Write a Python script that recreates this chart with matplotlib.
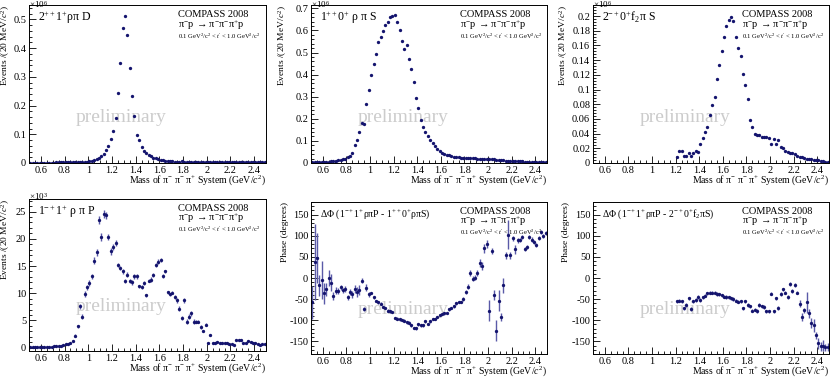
import numpy as np
import matplotlib
matplotlib.use('Agg')
import matplotlib.pyplot as plt
from matplotlib.ticker import MultipleLocator, AutoMinorLocator, FormatStrFormatter

plt.rcParams['font.family'] = ['Liberation Serif', 'DejaVu Serif']
plt.rcParams['mathtext.fontset'] = 'custom'
plt.rcParams['mathtext.rm'] = 'Liberation Serif'
plt.rcParams['mathtext.it'] = 'Liberation Serif:italic'
plt.rcParams['mathtext.default'] = 'regular'
plt.rcParams['axes.unicode_minus'] = False

# mass bins (20 MeV), bin centres
mass = np.round(np.arange(0.51, 2.50, 0.02), 2)

# 2++1+ rho pi D  (x10^6)
wave_2pp = [0.001, 0.001, 0.001, 0.001, 0.001, 0.001, 0.001, 0.001, 0.001, 0.001,
            0.001, 0.002, 0.002, 0.002, 0.002, 0.002, 0.002, 0.002, 0.002, 0.003,
            0.003, 0.003, 0.004, 0.004, 0.005, 0.006, 0.008, 0.010, 0.013, 0.017,
            0.023, 0.032, 0.044, 0.060, 0.084, 0.113, 0.156, 0.243, 0.347, 0.469,
            0.510, 0.447, 0.332, 0.234, 0.164, 0.098, 0.079, 0.056, 0.041, 0.034,
            0.029, 0.024, 0.019, 0.016, 0.013, 0.011, 0.009, 0.008, 0.007, 0.006,
            0.006, 0.005, 0.005, 0.005, 0.007, 0.005, 0.004, 0.004, 0.004, 0.003,
            0.003, 0.003, 0.003, 0.003, 0.003, 0.003, 0.003, 0.003, 0.003, 0.003,
            0.003, 0.003, 0.003, 0.002, 0.002, 0.002, 0.002, 0.002, 0.002, 0.002,
            0.002, 0.002, 0.002, 0.002, 0.002, 0.002, 0.002, 0.002, 0.002, 0.002]

# 1++0+ rho pi S  (x10^6)
wave_1pp = [0.003, 0.003, 0.003, 0.004, 0.004, 0.005, 0.005, 0.006, 0.007, 0.008,
            0.010, 0.012, 0.014, 0.017, 0.020, 0.025, 0.030, 0.043, 0.082, 0.102,
            0.140, 0.183, 0.175, 0.265, 0.330, 0.396, 0.447, 0.493, 0.546, 0.568,
            0.598, 0.624, 0.636, 0.662, 0.667, 0.671, 0.638, 0.600, 0.553, 0.515,
            0.533, 0.472, 0.425, 0.368, 0.294, 0.247, 0.193, 0.164, 0.142, 0.122,
            0.105, 0.091, 0.076, 0.064, 0.053, 0.046, 0.040, 0.037, 0.034, 0.031,
            0.029, 0.027, 0.025, 0.024, 0.023, 0.023, 0.022, 0.022, 0.021, 0.021,
            0.020, 0.020, 0.019, 0.019, 0.018, 0.017, 0.017, 0.016, 0.015, 0.014,
            0.013, 0.012, 0.011, 0.010, 0.010, 0.009, 0.008, 0.008, 0.007, 0.007,
            0.006, 0.006, 0.005, 0.005, 0.005, 0.004, 0.004, 0.004, 0.003, 0.003]

# 2-+0+ f2 pi S  (x10^6), starts at 1.21
wave_2mp = [np.nan] * 35 + [
            0.0077, 0.017, 0.017, 0.010, 0.010, 0.014, 0.0095, 0.013, 0.017, 0.0155,
            0.026, 0.034, 0.042, 0.049, 0.065, 0.079, 0.090, 0.114, 0.133, 0.153,
            0.172, 0.187, 0.194, 0.199, 0.193, 0.171, 0.156, 0.145, 0.121, 0.106,
            0.087, 0.058, 0.049, 0.040, 0.038, 0.038, 0.036, 0.036, 0.035, 0.034,
            0.026, 0.033, 0.026, 0.031, 0.022, 0.020, 0.017, 0.015, 0.013, 0.013,
            0.012, 0.0095, 0.0085, 0.0077, 0.0068, 0.006, 0.0055, 0.005, 0.0045, 0.004,
            0.0035, 0.003, 0.0025, 0.002, 0.0015]

# 1-+1+ rho pi P  (x10^3)
wave_1mp = [0.1, 0.1, 0.1, 0.1, 0.1, 0.15, 0.15, 0.2, 0.2, 0.2,
            0.25, 0.3, 0.4, 0.4, 0.5, 0.6, 0.7, 0.8, 1.3, 2.2,
            3.9, 7.6, 5.7, 9.9, 11.1, 11.9, 13.1, 16.0, 17.5, 23.5,
            20.3, 24.5, 24.3, 20.3, 17.7, 18.5, 19.2, 15.2, 14.6, 14.0,
            12.3, 13.4, 12.2, 12.0, 13.1, 13.1, 11.3, 11.1, 11.9, 9.6,
            12.3, 12.5, 13.4, 15.2, 15.8, 16.1, 13.2, 14.0, 10.2, 9.8,
            10.1, 9.3, 8.7, 7.2, 5.4, 8.7, 4.8, 5.7, 6.3, 4.8,
            4.8, 4.8, 3.8, 3.1, 4.2, 0.9, 2.3, 0.8, 0.8, 1.1,
            0.9, 0.8, 0.9, 0.8, 0.6, 0.6, 0.5, 1.5, 1.5, 1.4,
            0.9, 0.9, 1.3, 1.1, 0.9, 0.8, 0.6, 0.5, 0.6, 0.7]
err_1mp = [0.1] * 18 + [
           0.2, 0.3, 0.3, 0.4, 0.4, 0.5, 0.5, 0.5, 0.5, 0.6, 0.6, 0.7,
           0.7, 0.7, 0.7, 0.6, 0.6, 0.6, 0.6, 0.4, 0.4, 0.4, 0.4, 0.5,
           0.4, 0.4, 0.4, 0.4, 0.3, 0.4, 0.3, 0.3, 0.3, 0.4, 0.4, 0.4,
           0.4, 0.4, 0.4, 0.3, 0.3, 0.3, 0.3, 0.4, 0.4, 0.5, 0.4, 0.4,
           0.4, 0.4, 0.4, 0.4, 0.3, 0.3, 0.4, 0.2, 0.3, 0.2, 0.2, 0.2] + [0.15] * 22

# phase 1-+1+ rho pi P - 1++0+ rho pi S (degrees)
phase_a = [-58, 39, 47, -17, -4, -36, -27, 0, -11, -42,
           -30, -30, -22, -29, -26, -46, -33, -39, -26, -33,
           -29, -6, -74, -23, -39, -35, -46, -54, -58, -61,
           -69, -71, -77, -79, -80, -95, -96, -98, -99, -101,
           -105, -106, -112, -118, -119, -110, -112, -112, -103, -109,
           -103, -97, -97, -92, -88, -85, -84, -83, -74, -71,
           -67, -60, -57, -57, -50, -33, -21, 12, -2, 1,
           12, 36, 29, 70, 80, -77, 64, -40, -125, -54,
           -93, -17, 54, 103, 54, 94, 68, 89, 90, 97,
           68, 74, 98, 91, 86, 78, 95, 109, 99, 107]
err_a = [40, 90, 60, 25, 45, 25, 15, 20, 20, 10,
         8, 7, 6, 6, 6, 6, 8, 8, 10, 12,
         12, 6, 5, 8, 6, 3, 3, 3, 3, 3,
         3, 3, 3, 3, 3, 3, 3, 3, 3, 3,
         3, 3, 3, 3, 3, 3, 3, 3, 3, 3,
         3, 3, 3, 3, 3, 3, 3, 3, 3, 3,
         3, 3, 3, 3, 5, 5, 6, 8, 6, 6,
         8, 10, 10, 10, 10, 25, 8, 12, 25, 25,
         10, 18, 8, 35, 8, 6, 10, 5, 5, 5,
         5, 5, 5, 5, 5, 5, 5, 5, 5, 5]

# phase 1-+1+ rho pi P - 2-+0+ f2 pi S (degrees), starts at 1.21
phase_b = [np.nan] * 35 + [
           -55, -54, -55, -72, -64, -48, -73, -55, -52, -45,
           -52, -46, -42, -36, -35, -35, -35, -38, -39, -41,
           -44, -45, -46, -48, -50, -54, -56, -55, -72, -55,
           -64, -67, -77, -75, -78, -64, -67, -69, -79, -79,
           -37, -79, -48, -71, -38, -27, -35, -45, -14, -31,
           -17, -35, -61, -92, -76, -57, -84, -107, -112, -136,
           -155, -162, -160, -164, -164]
err_b = [0] * 35 + [4] * 52 + [8, 10, 6, 25, 10, 12, 15, 8, 12, 10, 12, 8, 10]

navy = '#14146e'
ebar = '#5a5aa8'

fig = plt.figure(figsize=(8.3, 3.77), dpi=100)
W, H = 830.0, 377.0


def make_ax(l, t, r, b):
    return fig.add_axes([l / W, 1 - b / H, (r - l) / W, (b - t) / H])


axes = [make_ax(29, 5, 266, 163), make_ax(311, 5, 547, 163), make_ax(593, 5, 829, 163),
        make_ax(29, 199, 266, 351), make_ax(311, 202, 547, 354), make_ax(593, 202, 829, 354)]

titles = [r'$2^{++}1^{+}\rho\pi$ D',
          r'$1^{++}0^{+}$ $\rho$ $\pi$ S',
          r'$2^{-+}0^{+}f_{2}\pi$ S',
          r'$1^{-+}1^{+}$ $\rho$ $\pi$ P',
          r'$\Delta\Phi$ ($1^{-+}1^{+}\rho\pi$P - $1^{++}0^{+}\rho\pi$S)',
          r'$\Delta\Phi$ ($1^{-+}1^{+}\rho\pi$P - $2^{-+}0^{+}f_{2}\pi$S)']
title_size = [8.5, 8.5, 8.5, 8.5, 7.0, 7.0]
ylabel_x = [-0.07, -0.092, -0.098, -0.07, -0.092, -0.098]
scale_y = [1.004, 1.004, 1.004, 1.015, None, None]

# top row: intensities
for ax, vals in zip(axes[:3], [wave_2pp, wave_1pp, wave_2mp]):
    ax.plot(mass, vals, 'o', color=navy, ms=2.4, mec='none')

axes[3].errorbar(mass, wave_1mp, yerr=err_1mp, fmt='o', color=navy, ms=2.4, mec='none',
                 ecolor=ebar, elinewidth=1.0, capsize=0)
axes[4].errorbar(mass, phase_a, yerr=err_a, fmt='o', color=navy, ms=2.4, mec='none',
                 ecolor=ebar, elinewidth=1.0, capsize=0)
axes[5].errorbar(mass, phase_b, yerr=err_b, fmt='o', color=navy, ms=2.4, mec='none',
                 ecolor=ebar, elinewidth=1.0, capsize=0)

axes[0].set_ylim(0, 0.55)
axes[1].set_ylim(0, 0.715)
axes[2].set_ylim(0, 0.215)
axes[3].set_ylim(-0.6, 27.3)
axes[4].set_ylim(-180, 180)
axes[5].set_ylim(-180, 180)

axes[0].yaxis.set_major_locator(MultipleLocator(0.1))
axes[1].yaxis.set_major_locator(MultipleLocator(0.1))
axes[2].yaxis.set_major_locator(MultipleLocator(0.02))
axes[3].yaxis.set_major_locator(MultipleLocator(5))
axes[4].yaxis.set_major_locator(MultipleLocator(50))
axes[5].yaxis.set_major_locator(MultipleLocator(50))

scales = [r'$\times10^{6}$', r'$\times10^{6}$', r'$\times10^{6}$', r'$\times10^{3}$', None, None]

for i, ax in enumerate(axes):
    ax.set_xlim(0.5, 2.5)
    ax.xaxis.set_major_locator(MultipleLocator(0.2))
    ax.xaxis.set_minor_locator(AutoMinorLocator(4))
    ax.yaxis.set_minor_locator(AutoMinorLocator(5))
    ax.xaxis.set_major_formatter(FormatStrFormatter('%g'))
    ax.yaxis.set_major_formatter(FormatStrFormatter('%g'))
    ax.tick_params(which='both', direction='in', top=False, right=False,
                   labelsize=7.5, width=0.6, pad=2)
    ax.tick_params(which='major', length=5)
    ax.tick_params(which='minor', length=2.5)
    for s in ax.spines.values():
        s.set_linewidth(0.7)

    ax.set_xlabel(r'Mass of $\pi^{-}$ $\pi^{-}$ $\pi^{+}$ System (GeV/$\mathit{c}^{2}$)',
                  fontsize=7, loc='right', labelpad=-1)
    if i < 4:
        ax.set_ylabel(r'Events /(20 MeV/$\mathit{c}^{2}$)', fontsize=6.8, loc='top')
    else:
        ax.set_ylabel('Phase (degrees)', fontsize=6.8, loc='top')
    ax.yaxis.set_label_coords(ylabel_x[i], 1.0)

    ax.text(0.04, 0.92, titles[i], transform=ax.transAxes, fontsize=title_size[i], va='center')
    ax.text(0.63, 0.94, 'COMPASS 2008', transform=ax.transAxes, fontsize=7.5, va='center')
    ax.text(0.63, 0.875, r'$\pi^{-}$p $\rightarrow\pi^{-}\pi^{-}\pi^{+}$p',
            transform=ax.transAxes, fontsize=7.5, va='center')
    ax.text(0.63, 0.80, r"0.1 GeV$^{2}$/c$^{2}$ < $\mathit{t'}$ < 1.0 GeV$^{2}$/c$^{2}$",
            transform=ax.transAxes, fontsize=4.7, va='center')
    ax.text(0.39, 0.29, 'preliminary', transform=ax.transAxes, fontsize=14,
            color='#cccccc', ha='center', va='center', zorder=0)
    if scales[i]:
        ax.text(0.0, scale_y[i], scales[i], transform=ax.transAxes, fontsize=6.5, va='center')

fig.savefig('out.png', dpi=100)
